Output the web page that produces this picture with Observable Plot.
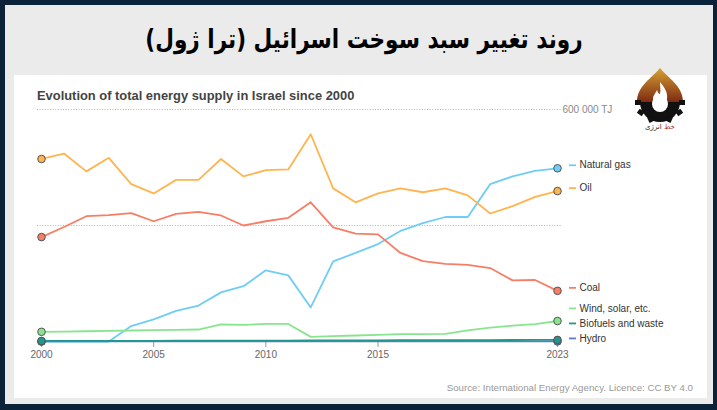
<!DOCTYPE html>
<html>
<head>
<meta charset="utf-8">
<script src="https://cdn.jsdelivr.net/npm/d3@7"></script>
<script src="https://cdn.jsdelivr.net/npm/@observablehq/plot@0.6"></script>
<style>
  html, body { margin: 0; padding: 0; }
  body { width: 717px; height: 410px; background: #0b2239; position: relative; overflow: hidden; font-family: "Liberation Sans", Arial, sans-serif; }
  #panel { position: absolute; left: 5px; top: 5px; width: 708px; height: 399px; background: #ebebeb; }
  #title { position: absolute; left: 0; top: 24px; width: 728px; text-align: center; font-family: "DejaVu Sans", sans-serif; font-weight: bold; font-size: 26px; color: #000; direction: rtl; transform: scaleX(0.83); transform-origin: 364px 0; }
  #white { position: absolute; left: 14px; top: 75px; width: 693px; height: 323px; background: #fff; }
  #subtitle { position: absolute; left: 37px; top: 88px; font-size: 12.9px; font-weight: bold; color: #444; white-space: nowrap; }
  #chart { position: absolute; left: 0; top: 99px; }
  #caption { position: absolute; right: 24px; top: 382px; font-size: 9.7px; color: #999; white-space: nowrap; }
  #logo { position: absolute; left: 632px; top: 66px; }
</style>
</head>
<body>
<div id="panel"></div>
<div id="title"></div>
<div id="white"></div>
<svg id="logo" width="56" height="66" viewBox="0 0 56 66">
  <defs>
    <linearGradient id="dome" x1="0" y1="0" x2="0" y2="1">
      <stop offset="0" stop-color="#d6a236"/>
      <stop offset="1" stop-color="#7e2a10"/>
    </linearGradient>
  </defs>
  <path d="M5,36 C5,20 20,12 28,2 C36,12 51,20 51,36 Z" fill="url(#dome)"/>
  <g fill="#111">
    <path d="M8,36 A20,20 0 0 0 48,36 Z"/>
    <rect x="3" y="34" width="6" height="5"/>
    <rect x="47" y="34" width="6" height="5"/>
    <rect x="6" y="44" width="6" height="5" transform="rotate(35 9 46)"/>
    <rect x="44" y="44" width="6" height="5" transform="rotate(-35 47 46)"/>
    <rect x="16" y="51" width="6" height="5" transform="rotate(65 19 53)"/>
    <rect x="34" y="51" width="6" height="5" transform="rotate(-65 37 53)"/>
  </g>
  <circle cx="28" cy="38" r="8" fill="#fff"/>
  <path d="M28,16 C33,22 36,27 35,33 C34,38 31,40 28,40 C24,40 21,37 21,33 C21,29 24,27 25,24 C26,27 27,28 28,28 C29,24 28,20 28,16 Z" fill="#fff"/>
  <text x="28" y="63" text-anchor="middle" font-family="DejaVu Sans" font-size="7" direction="rtl"><tspan fill="#b5341a">خط</tspan><tspan fill="#222"> انرژی</tspan></text>
</svg>
<div id="subtitle"></div>
<div id="chart"></div>
<div id="caption"></div>
<script>
// ---- Texts ----
const titleText = "روند تغییر سبد سوخت اسرائیل (ترا ژول)";
const subtitleText = "Evolution of total energy supply in Israel since 2000";
const captionText = "Source: International Energy Agency. Licence: CC BY 4.0";
const gridValues = [300000, 600000];
const gridLabel = ["600 000 TJ"];
const xTicks = [2000, 2005, 2010, 2015, 2023];

// ---- Data (TJ) ----
const years = [2000, 2001, 2002, 2003, 2004, 2005, 2006, 2007, 2008, 2009, 2010, 2011,
               2012, 2013, 2014, 2015, 2016, 2017, 2018, 2019, 2020, 2021, 2022, 2023];
const naturalGas = [0, 0, 0, 0, 40000, 57000, 79000, 93000, 127000, 143000, 184000, 171000,
                    88000, 207000, 229000, 252000, 286000, 306000, 322000, 322000, 407000, 427000, 441000, 448000];
const oil = [472000, 486000, 440000, 475000, 407000, 383000, 418000, 418000, 472000, 427000, 443000, 445000,
             536000, 396000, 360000, 383000, 396000, 386000, 396000, 378000, 331000, 350000, 374000, 389000];
const coal = [270000, 296000, 324000, 327000, 332000, 311000, 330000, 335000, 326000, 300000, 311000, 320000,
              360000, 295000, 279000, 277000, 229000, 208000, 201000, 198000, 190000, 158000, 159000, 131000];
const windSolar = [25000, 25500, 26500, 27500, 28500, 29500, 30000, 31000, 44000, 43000, 45500, 45500,
                   12000, 13700, 15500, 17000, 19000, 19000, 19700, 29000, 36000, 41000, 45000, 53000];
const biofuels = [1400, 1500, 1500, 1600, 1700, 1800, 1900, 2000, 2200, 2300, 2300, 2500,
                  2600, 2800, 2900, 3100, 3200, 3400, 3500, 3700, 3600, 3900, 4000, 4100];
const hydro = [100, 100, 100, 100, 100, 100, 100, 100, 100, 100, 100, 100,
               100, 100, 100, 100, 100, 100, 200, 200, 200, 200, 200, 200];

const seriesNames = ["Natural gas", "Oil", "Coal", "Wind, solar, etc.", "Hydro", "Biofuels and waste"];
const seriesValues = [naturalGas, oil, coal, windSolar, hydro, biofuels];
const seriesColors = ["#6fcdf5", "#ffb44f", "#f77e64", "#88e58e", "#5b79d1", "#23968e"];

document.getElementById("title").textContent = titleText;
document.getElementById("subtitle").textContent = subtitleText;
document.getElementById("caption").textContent = captionText;

// long table
const rows = [];
seriesNames.forEach((s, si) => years.forEach((yr, i) => rows.push({series: s, year: yr, value: seriesValues[si][i]})));
const firstYear = years[0], lastYear = years[years.length - 1];
const startRows = rows.filter(d => d.year === firstYear);
const endRows = rows.filter(d => d.year === lastYear);

// layout
const W = 717, H = 271, mL = 41, mR = 160, mT = 10, mB = 29;
const yDomain = [0, 600000];
const yRange = [H - mB, mT];
const yScale = d3.scaleLinear(yDomain, yRange);

// dodge end labels (pixel space), bottom to top
const labels = endRows.map(d => ({series: d.series, value: d.value, py: yScale(d.value) - 3}))
  .sort((a, b) => b.py - a.py);
let prev = Infinity;
labels.forEach(l => { l.py = Math.min(l.py, prev - 15); prev = l.py; l.ly = yScale.invert(l.py); });

const color = {domain: seriesNames, range: seriesColors};

const chart = Plot.plot({
  width: W, height: H,
  marginLeft: mL, marginRight: mR, marginTop: mT, marginBottom: mB,
  style: {fontFamily: "Liberation Sans, Arial, sans-serif", overflow: "visible", background: "transparent"},
  x: {domain: [firstYear, lastYear], axis: null},
  y: {domain: yDomain, range: yRange, axis: null},
  color,
  marks: [
    Plot.ruleY(gridValues, {stroke: "#b5b5b5", strokeDasharray: "1,1.6", insetLeft: -4, insetRight: -5}),
    Plot.text(gridLabel, {x: lastYear, y: gridValues[1], text: d => d, dx: 5, textAnchor: "start", fill: "#8a8a8a", fontSize: 10}),
    Plot.ruleY([0], {stroke: "#cfcfcf"}),
    Plot.axisX({ticks: xTicks, tickSize: 6, tickPadding: 3, tickFormat: d => String(d), fontSize: 10, stroke: "#9a9a9a", fill: "#666", label: null}),
    Plot.line(rows, {x: "year", y: "value", z: "series", stroke: "series", strokeWidth: 1.8}),
    Plot.dot(startRows, {x: "year", y: "value", fill: "series", stroke: "#555", strokeWidth: 1, r: 3.8}),
    Plot.dot(endRows, {x: "year", y: "value", fill: "series", stroke: "#555", strokeWidth: 1, r: 3.8}),
    Plot.ruleY(labels, {x1: lastYear, x2: lastYear, y: "ly", stroke: d => d.series, strokeWidth: 1.8, insetLeft: 12, insetRight: -19}),
    Plot.text(labels, {x: lastYear, y: "ly", text: "series", dx: 22, textAnchor: "start", fill: "#333", fontSize: 10})
  ]
});
document.getElementById("chart").appendChild(chart);
</script>
</body>
</html>
